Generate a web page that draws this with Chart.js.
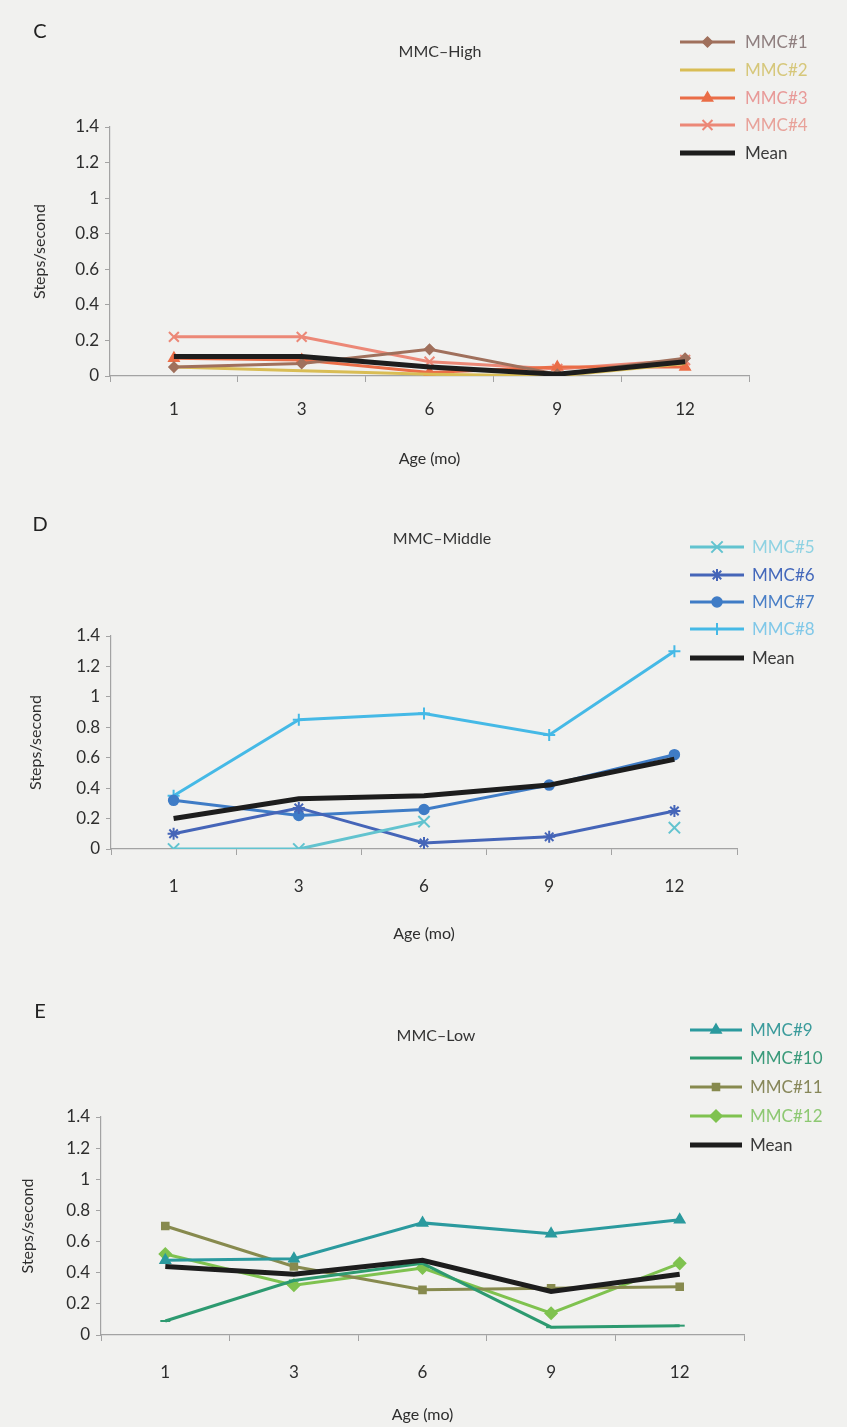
<!DOCTYPE html>
<html>
<head>
<meta charset="utf-8">
<script src="https://cdn.jsdelivr.net/npm/chart.js@4.4.0/dist/chart.umd.min.js"></script>
<style>
  html, body { margin:0; padding:0; background:#f1f1ef; }
  body { width:847px; height:1427px; position:relative; overflow:hidden; font-family:Lato, "Open Sans", sans-serif; color:#2e2e2e; }
  .panel { position:absolute; left:0; width:847px; }
  .panel canvas { position:absolute; left:0; top:0; }
  .letter { position:absolute; font-size:20px; color:#222; transform:translate(-50%,-50%); }
  .title { position:absolute; font-size:16px; color:#333; white-space:nowrap; transform:translate(-50%,-50%); }
</style>
</head>
<body>

<div class="panel" style="top:0;height:475px">
  <canvas id="chartHigh" width="847" height="475"></canvas>
  <div class="letter" style="left:40px;top:30px">C</div>
  <div class="title" style="left:440px;top:50px">MMC–High</div>
</div>
<div class="panel" style="top:475px;height:475px">
  <canvas id="chartMiddle" width="847" height="475"></canvas>
  <div class="letter" style="left:40px;top:48px">D</div>
  <div class="title" style="left:442px;top:62px">MMC–Middle</div>
</div>
<div class="panel" style="top:950px;height:477px">
  <canvas id="chartLow" width="847" height="477"></canvas>
  <div class="letter" style="left:40px;top:60px">E</div>
  <div class="title" style="left:436px;top:84px">MMC–Low</div>
</div>

<script>
// age in months (x categories) and steps/second per child
const ages = ['1', '3', '6', '9', '12'];

const mmc1 = [0.05, 0.07, 0.15, 0.01, 0.10];
const mmc2 = [0.05, 0.03, 0.01, 0.00, 0.07];
const mmc3 = [0.10, 0.09, 0.02, 0.05, 0.05];
const mmc4 = [0.22, 0.22, 0.08, 0.04, 0.09];
const meanHigh = [0.11, 0.11, 0.05, 0.01, 0.08];

const mmc5 = [0.00, 0.00, 0.18, null, 0.14];
const mmc6 = [0.10, 0.27, 0.04, 0.08, 0.25];
const mmc7 = [0.32, 0.22, 0.26, 0.42, 0.62];
const mmc8 = [0.35, 0.85, 0.89, 0.75, 1.30];
const meanMiddle = [0.20, 0.33, 0.35, 0.42, 0.59];

const mmc9  = [0.48, 0.49, 0.72, 0.65, 0.74];
const mmc10 = [0.09, 0.35, 0.46, 0.05, 0.06];
const mmc11 = [0.70, 0.44, 0.29, 0.30, 0.31];
const mmc12 = [0.52, 0.32, 0.43, 0.14, 0.46];
const meanLow = [0.44, 0.39, 0.48, 0.28, 0.39];

const yMin = 0, yMax = 1.4, yStep = 0.2;

const FONT = 'Lato, "Open Sans", sans-serif';
const AXIS = '#a3a3a3';
const TEXT = '#2e2e2e';

function series(label, data, color, style, radius, extra) {
  return Object.assign({
    label, data,
    borderColor: color, backgroundColor: color,
    borderWidth: 3,
    pointStyle: style || false,
    pointRadius: style ? radius : 0,
    pointBackgroundColor: color, pointBorderColor: color,
    pointBorderWidth: 1.5,
    tension: 0, spanGaps: false, order: 1
  }, extra || {});
}
function meanSeries(data) {
  return { label:'Mean', data, borderColor:'#1d1d1d', backgroundColor:'#1d1d1d', borderWidth:5,
           pointRadius:0, pointStyle:false, tension:0, order:0 };
}

// legend drawn at the upper right: line sample + marker + label
const sideLegend = {
  id: 'sideLegend',
  afterDraw(chart, args, o) {
    const ctx = chart.ctx;
    ctx.save();
    chart.data.datasets.forEach((ds, i) => {
      const y = o.rows[i];
      ctx.strokeStyle = ds.borderColor;
      ctx.lineWidth = ds.borderWidth;
      ctx.beginPath(); ctx.moveTo(o.x0, y); ctx.lineTo(o.x1, y); ctx.stroke();
      if (ds.pointStyle) {
        ctx.fillStyle = ds.pointBackgroundColor;
        ctx.strokeStyle = ds.pointBorderColor;
        ctx.lineWidth = ds.pointBorderWidth;
        Chart.helpers.drawPoint(ctx, { pointStyle: ds.pointStyle, radius: ds.pointRadius,
          borderWidth: ds.pointBorderWidth, rotation: 0 }, (o.x0 + o.x1) / 2, y);
      }
      ctx.fillStyle = o.colors[i];
      ctx.font = '17px ' + FONT;
      ctx.textBaseline = 'middle';
      ctx.textAlign = 'left';
      ctx.fillText(ds.label, o.tx, y + 1);
    });
    ctx.restore();
  }
};

function makeChart(id, datasets, g) {
  return new Chart(document.getElementById(id), {
    type: 'line',
    data: { labels: ages, datasets },
    plugins: [sideLegend],
    options: {
      responsive: false, animation: false,
      layout: { padding: { left: 0, top: g.top, right: 847 - g.right, bottom: 0 } },
      plugins: {
        legend: { display: false }, tooltip: { enabled: false },
        sideLegend: g.legend
      },
      scales: {
        x: {
          offset: true,
          grid: { offset: true, drawOnChartArea: false, tickLength: 6, color: AXIS },
          border: { display: true, color: AXIS, width: 1.2 },
          ticks: { color: TEXT, font: { family: FONT, size: 17 }, padding: g.xPad },
          title: { display: true, text: 'Age (mo)', color: TEXT, font: { family: FONT, size: 16 },
                   padding: { top: 0, bottom: g.xTitlePad } },
          afterFit: s => { s.height = g.height - g.bottom; }
        },
        y: {
          min: yMin, max: yMax,
          grid: { drawOnChartArea: false, tickLength: 5, color: AXIS },
          border: { display: true, color: AXIS, width: 1.2 },
          ticks: { stepSize: yStep, color: TEXT, font: { family: FONT, size: 17 }, padding: 6,
                   callback: v => String(+v.toFixed(1)) },
          title: { display: true, text: 'Steps/second', color: TEXT, font: { family: FONT, size: 16 },
                   padding: { top: g.yTitleX - 10, bottom: 0 } },
          afterFit: s => { s.width = g.left; }
        }
      }
    }
  });
}

makeChart('chartHigh', [
  series('MMC#1', mmc1, '#a0705c', 'rectRot', 5),
  series('MMC#2', mmc2, '#d9bd55', false, 0),
  series('MMC#3', mmc3, '#ea6d47', 'triangle', 6),
  series('MMC#4', mmc4, '#ec8877', 'crossRot', 7, { pointBorderWidth: 2 }),
  meanSeries(meanHigh)
], {
  height: 475, left: 110, right: 749, top: 127, bottom: 376,
  xPad: 17, xTitlePad: 7, yTitleX: 40,
  legend: { x0: 680, x1: 735, tx: 745, rows: [42, 70, 98, 125, 153],
            colors: ['#8f7f7f', '#d6c77a', '#e89a98', '#e8a29a', '#3a3a3a'] }
});

makeChart('chartMiddle', [
  series('MMC#5', mmc5, '#62c3cf', 'crossRot', 8, { pointBorderWidth: 2 }),
  series('MMC#6', mmc6, '#4565b8', 'star', 6, { pointBorderWidth: 2 }),
  series('MMC#7', mmc7, '#3f7cc6', 'circle', 5),
  series('MMC#8', mmc8, '#45b9e6', 'cross', 6, { pointBorderWidth: 2 }),
  meanSeries(meanMiddle)
], {
  height: 475, left: 111, right: 737, top: 161, bottom: 374,
  xPad: 21, xTitlePad: 7, yTitleX: 36,
  legend: { x0: 690, x1: 744, tx: 752, rows: [72, 100, 127, 154, 183],
            colors: ['#8ed2e2', '#4468bb', '#4a7fc6', '#80c8e8', '#3a3a3a'] }
});

makeChart('chartLow', [
  series('MMC#9', mmc9, '#2b9a9e', 'triangle', 6),
  series('MMC#10', mmc10, '#2d9a70', 'line', 5, { pointBorderWidth: 2 }),
  series('MMC#11', mmc11, '#878a4e', 'rect', 5),
  series('MMC#12', mmc12, '#7fc24f', 'rectRot', 6),
  meanSeries(meanLow)
], {
  height: 477, left: 101, right: 744, top: 167, bottom: 385,
  xPad: 21, xTitlePad: 3, yTitleX: 28,
  legend: { x0: 690, x1: 742, tx: 750, rows: [80, 108, 137, 166, 195],
            colors: ['#3b9b9b', '#3a9a7a', '#87875a', '#8dc872', '#3a3a3a'] }
});
</script>
</body>
</html>
